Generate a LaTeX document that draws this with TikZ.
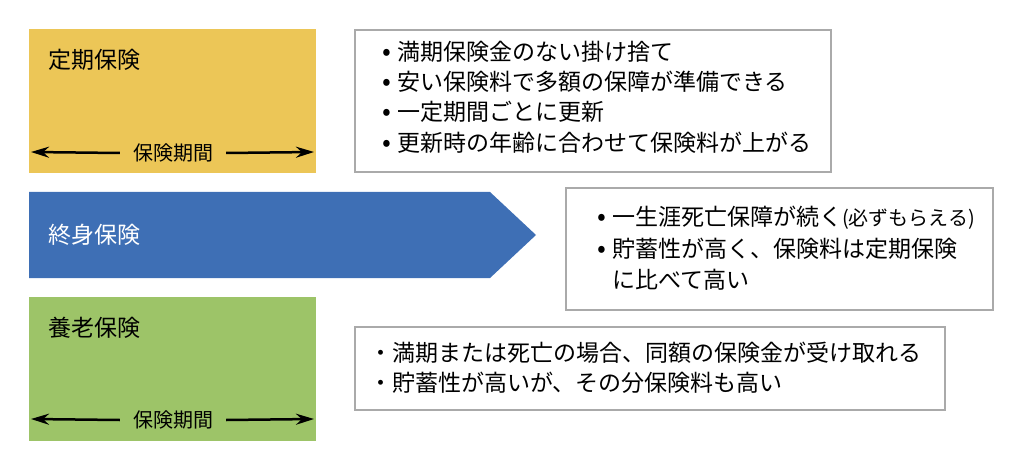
\documentclass[tikz,border=0pt]{standalone}
\usepackage{fontspec}
\newfontfamily\jp{Noto Sans CJK JP}
\usetikzlibrary{arrows.meta}
\definecolor{cyel}{RGB}{236,198,87}
\definecolor{cblue}{RGB}{62,111,181}
\definecolor{cgreen}{RGB}{157,196,104}
\definecolor{cgray}{RGB}{170,170,170}
\newcommand{\bul}{\llap{{\fontsize{26}{27}\selectfont •}\hspace{6pt}}}
\tikzset{
  txt/.style={anchor=west,inner sep=0pt,font=\jp\fontsize{23}{27}\selectfont},
  title/.style={anchor=west,inner sep=0pt,font=\jp\fontsize{23}{27}\selectfont},
  plabel/.style={inner sep=0pt,font=\jp\fontsize{20}{24}\selectfont},
  infobox/.style={draw=cgray,line width=1.5pt,fill=white},
  period/.style={line width=2.5pt,-{Stealth[length=18pt,width=11pt]}},
}
\begin{document}
\begin{tikzpicture}[x=1pt,y=-1pt]
\useasboundingbox (0,0) rectangle (1024,470);
% yellow
\fill[cyel] (29,29) rectangle (316,173);
\node[title] (t1) at (48,60) {定期保険};
\node[plabel] (p1) at (173,153) {保険期間};
\coordinate (p1l) at (31,152);
\coordinate (p1r) at (314,152);
\draw[period] (p1.west) ++(-13,0) coordinate (p1a) -- (p1l);
\draw[period] (p1.east) ++(13,0) coordinate (p1b) -- (p1r);
% box 1
\draw[infobox] (355,30) rectangle (831,172);
\node[txt] (b1a) at (397,52) {\bul 満期保険金のない掛け捨て};
\node[txt] (b1b) at (397,82) {\bul 安い保険料で多額の保障が準備できる};
\node[txt] (b1c) at (397,112) {\bul 一定期間ごとに更新};
\node[txt] (b1d) at (397,143) {\bul 更新時の年齢に合わせて保険料が上がる};
% blue
\fill[cblue] (29,192) -- (490,192) -- (536,235) -- (490,278) -- (29,278) -- cycle;
\node[title,text=white] (t2) at (48,235) {終身保険};
% box 2
\draw[infobox] (566,188) rectangle (993,310);
\node[txt] (b2a) at (612,218) {\bul 一生涯死亡保障が続く{\fontsize{20}{22}\selectfont (必ずもらえる)}};
\node[txt] (b2b) at (612,249) {\bul 貯蓄性が高く、保険料は定期保険};
\node[txt] (b2c) at (612,280) {に比べて高い};
% green
\fill[cgreen] (29,297) rectangle (316,441);
\node[title] (t3) at (48,328) {養老保険};
\node[plabel] (p3) at (173,420) {保険期間};
\coordinate (p3l) at (31,419);
\coordinate (p3r) at (314,419);
\draw[period] (p3.west) ++(-13,0) coordinate (p3a) -- (p3l);
\draw[period] (p3.east) ++(13,0) coordinate (p3b) -- (p3r);
% box 3
\draw[infobox] (355,327) rectangle (945,410);
\node[txt] (b3a) at (369,353) {・満期または死亡の場合、同額の保険金が受け取れる};
\node[txt] (b3b) at (369,383) {・貯蓄性が高いが、その分保険料も高い};
\end{tikzpicture}
\end{document}
